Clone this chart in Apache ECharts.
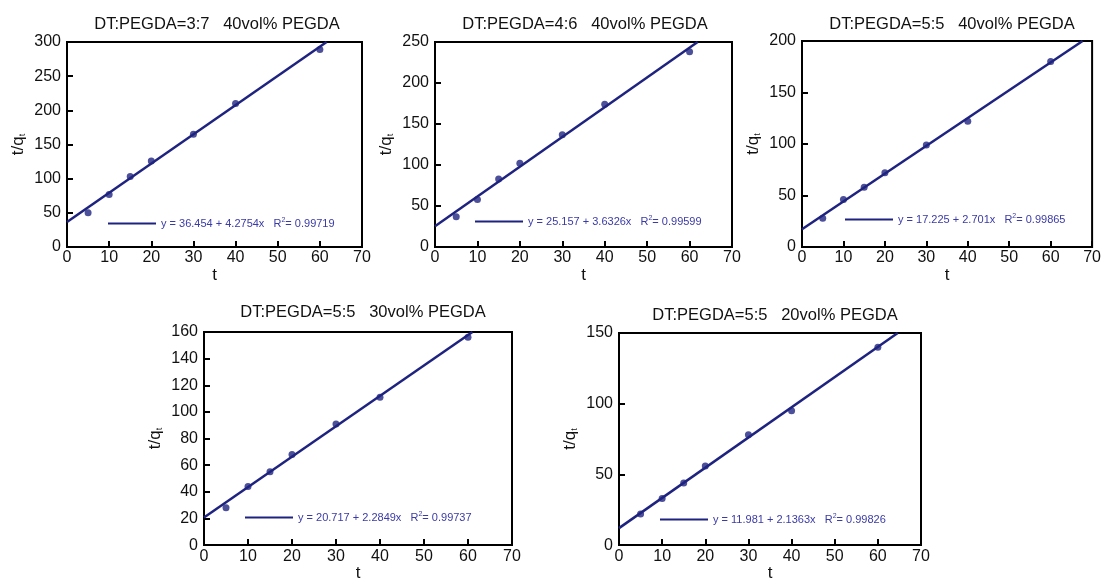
<!DOCTYPE html>
<html>
<head>
<meta charset="utf-8">
<script src="https://cdn.jsdelivr.net/npm/echarts@6/dist/echarts.min.js"></script>
<style>
  html, body { margin: 0; padding: 0; background: #fff; }
  #main { width: 1104px; height: 583px; }
</style>
</head>
<body>
<div id="main"></div>
<script>
// sampling times (x)
const tValues = [5, 10, 15, 20, 30, 40, 60];

// t/qt
const q37_40 = [50, 77, 103, 126, 165, 210, 289];
const q46_40 = [37, 58, 83, 102, 137, 174, 238];
const q55_40 = [28, 46, 58, 72, 99, 122, 180];
const q55_30 = [28, 44, 55, 68, 91, 111, 156];
const q55_20 = [22, 33, 44, 56, 78, 95, 140];

// fitted line end points (start at t=0, end where it leaves the frame)
const fit37_40 = [[0, 36.5], [61.6, 300]];
const fit46_40 = [[0, 25.2], [61.9, 250]];
const fit55_40 = [[0, 17.2], [67.7, 200]];
const fit55_30 = [[0, 20.7], [61.0, 160]];
const fit55_20 = [[0, 12.0], [64.6, 150]];

const titles = [
  'DT:PEGDA=3:7   40vol% PEGDA',
  'DT:PEGDA=4:6   40vol% PEGDA',
  'DT:PEGDA=5:5   40vol% PEGDA',
  'DT:PEGDA=5:5   30vol% PEGDA',
  'DT:PEGDA=5:5   20vol% PEGDA'
];
const fitEquations = [
  'y = 36.454 + 4.2754x',
  'y = 25.157 + 3.6326x',
  'y = 17.225 + 2.701x',
  'y = 20.717 + 2.2849x',
  'y = 11.981 + 2.1363x'
];
const r2Values = ['0.99719', '0.99599', '0.99865', '0.99737', '0.99826'];
const yMaxes = [300, 250, 200, 160, 150];
const ySteps = [50, 50, 50, 20, 50];

const points = [q37_40, q46_40, q55_40, q55_30, q55_20];
const fits = [fit37_40, fit46_40, fit55_40, fit55_30, fit55_20];

// panel layout
const panels = [
  { left: 67,  top: 42,  width: 295, height: 205, titleX: 212, titleY: 11,  legX: 108, legY: 217 },
  { left: 435, top: 42,  width: 297, height: 205, titleX: 580, titleY: 11,  legX: 475, legY: 215 },
  { left: 802, top: 41,  width: 298, height: 206, titleX: 947, titleY: 11,  legX: 845, legY: 213 },
  { left: 204, top: 332, width: 308, height: 215, titleX: 358, titleY: 299, legX: 245, legY: 511 },
  { left: 619, top: 333, width: 302, height: 214, titleX: 770, titleY: 302, legX: 660, legY: 513 }
];

const FONT = 'Liberation Sans, Arial, sans-serif';
const NAVY = '#1f2380';

const chart = echarts.init(document.getElementById('main'));

const option = {
  backgroundColor: '#fff',
  animation: false,
  textStyle: { fontFamily: FONT },
  title: [], grid: [], xAxis: [], yAxis: [], legend: [], series: []
};

panels.forEach((p, i) => {
  option.title.push({
    text: titles[i],
    left: p.titleX, top: p.titleY, textAlign: 'center',
    textStyle: { fontFamily: FONT, fontSize: 16.5, fontWeight: 'normal', color: '#111' }
  });
  option.grid.push({
    left: p.left, top: p.top, width: p.width, height: p.height,
    show: true, borderColor: '#000', borderWidth: 2, backgroundColor: 'transparent'
  });
  option.xAxis.push({
    type: 'value', gridIndex: i, min: 0, max: 70, interval: 10,
    name: 't', nameLocation: 'middle', nameGap: 19,
    nameTextStyle: { fontFamily: FONT, fontSize: 17, color: '#111' },
    axisLine: { onZero: false, lineStyle: { color: '#000', width: 2 } },
    axisTick: { inside: true, length: 6, lineStyle: { color: '#000', width: 2 } },
    axisLabel: { fontFamily: FONT, fontSize: 16, color: '#111', margin: 3 },
    splitLine: { show: false }
  });
  option.yAxis.push({
    type: 'value', gridIndex: i, min: 0, max: yMaxes[i], interval: ySteps[i],
    name: 't/q{sub|t}', nameLocation: 'middle', nameGap: 40, nameRotate: 90,
    nameTextStyle: {
      fontFamily: FONT, fontSize: 17, color: '#111',
      rich: { sub: { fontFamily: FONT, fontSize: 9, color: '#111', padding: [8, 0, 0, 0] } }
    },
    axisLine: { onZero: false, lineStyle: { color: '#000', width: 2 } },
    axisTick: { inside: true, length: 6, lineStyle: { color: '#000', width: 2 } },
    axisLabel: { fontFamily: FONT, fontSize: 16, color: '#111', margin: 6 },
    splitLine: { show: false }
  });
  const fitName = 'fit' + i;
  option.legend.push({
    data: [fitName],
    left: p.legX, top: p.legY, padding: 0,
    icon: 'rect', itemWidth: 48, itemHeight: 2, itemGap: 4,
    selectedMode: false,
    formatter: () => fitEquations[i] + '   R{sup|2}= ' + r2Values[i],
    textStyle: {
      fontFamily: FONT, fontSize: 11, color: '#3a3aa8',
      rich: { sup: { fontFamily: FONT, fontSize: 7, color: '#3a3aa8', padding: [0, 0, 6, 0] } }
    }
  });
  option.series.push({
    name: fitName, type: 'line',
    xAxisIndex: i, yAxisIndex: i,
    data: fits[i], showSymbol: false, symbol: 'none',
    lineStyle: { color: NAVY, width: 2.5 }, itemStyle: { color: NAVY },
    z: 2
  });
  option.series.push({
    name: 'data' + i, type: 'scatter',
    xAxisIndex: i, yAxisIndex: i,
    data: tValues.map((t, j) => [t, points[i][j]]),
    symbol: 'circle', symbolSize: 7,
    itemStyle: { color: NAVY },
    z: 3
  });
});

chart.setOption(option);
</script>
</body>
</html>
